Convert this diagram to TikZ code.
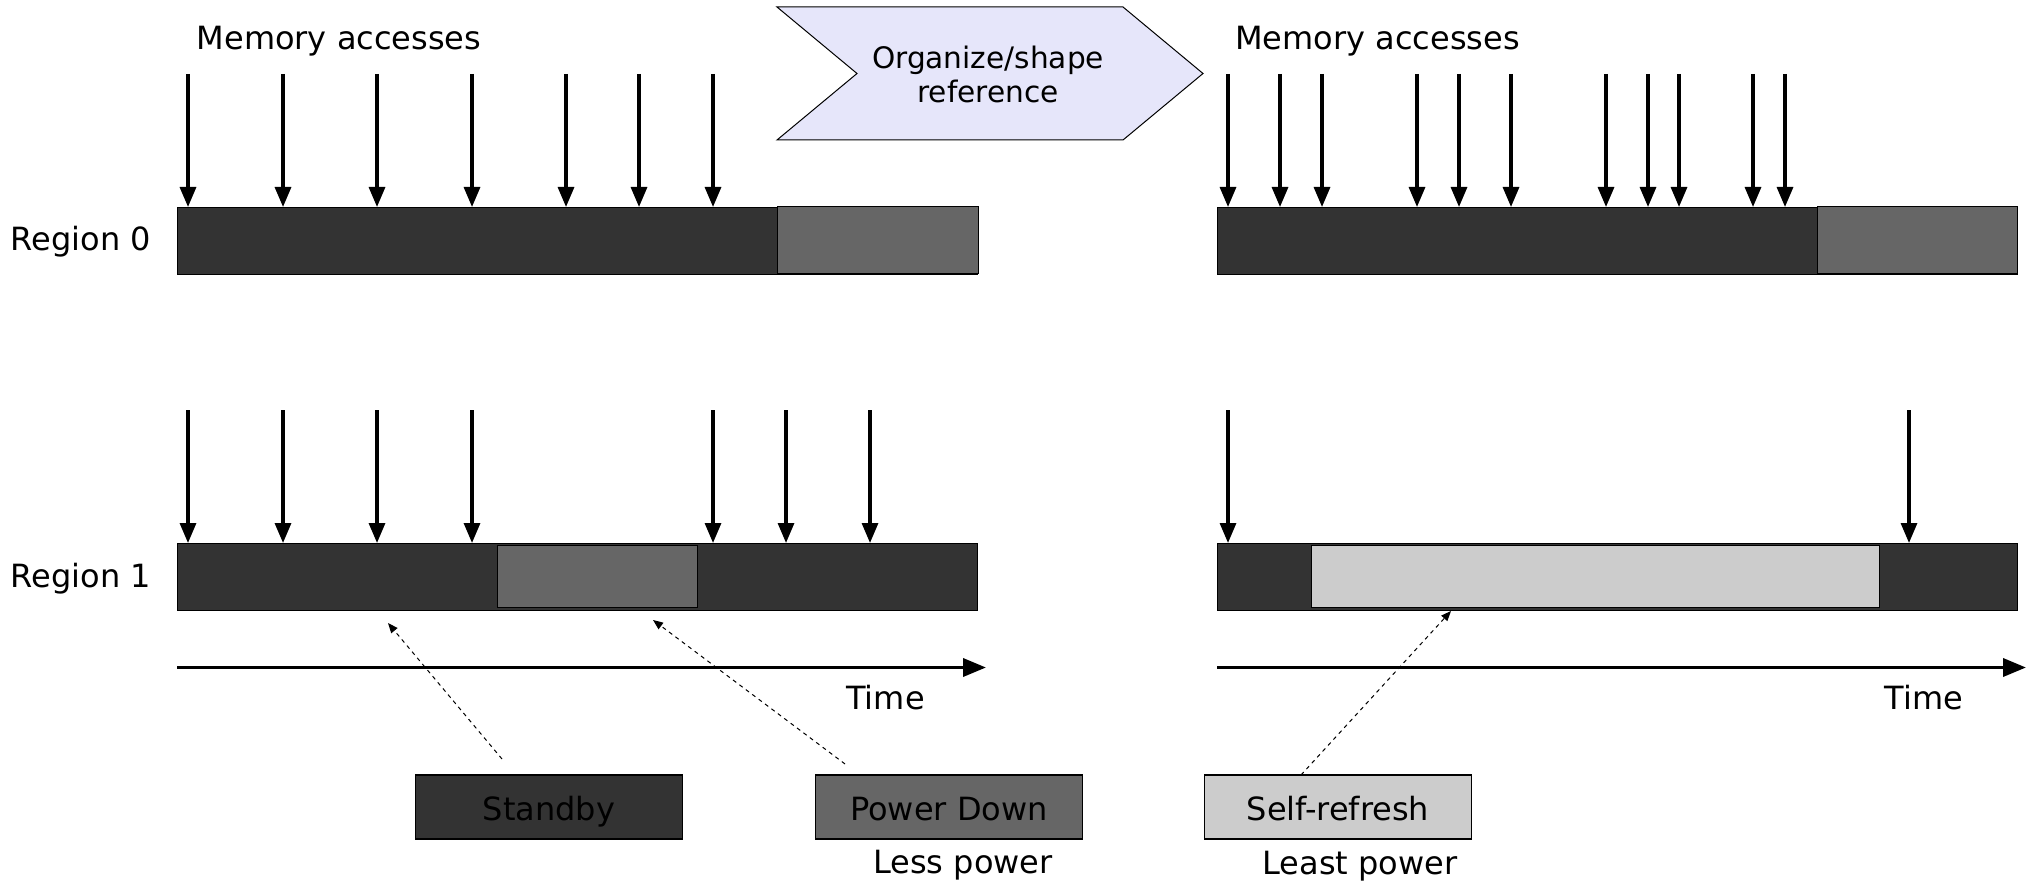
\documentclass[tikz,border=0pt]{standalone}
\usepackage{fontspec}
\setmainfont{DejaVu Sans}
\usetikzlibrary{arrows.meta}
\definecolor{standby}{HTML}{333333}
\definecolor{pdown}{HTML}{666666}
\definecolor{sref}{HTML}{CCCCCC}
\definecolor{chev}{HTML}{E6E6FA}
\begin{document}
\begin{tikzpicture}[x=0.5pt,y=-0.5pt,
  lbl/.style={inner sep=0pt, anchor=base, font=\fontsize{16pt}{19pt}\selectfont},
  chevtxt/.style={inner sep=0pt, anchor=base, font=\fontsize{14.8pt}{17pt}\selectfont},
  bar/.style={draw=black, line width=0.6pt, fill=standby, anchor=north west,
    inner sep=0pt, minimum width=400pt, minimum height=33.5pt},
  seg/.style={draw=black, line width=0.5pt},
  acc/.style={line width=1.6pt, -{Triangle[length=10pt,width=8pt]}},
  axis/.style={line width=1.8pt, -{Triangle[length=11.5pt,width=9pt]}},
  hint/.style={line width=0.5pt, dash pattern=on 2pt off 2pt, -{Triangle[length=5pt,width=4pt]}},
  state/.style={draw=black, line width=0.6pt, inner sep=0pt, minimum width=133.5pt,
    minimum height=32pt, text height=13pt, text depth=0pt,
    font=\fontsize{16pt}{19pt}\selectfont},
]
\useasboundingbox (0,0) rectangle (2028,882);

% headings
\node[lbl] (hdL) at (339,50) {Memory accesses};
\node[lbl] (hdR) at (1377.5,50) {Memory accesses};
\node[lbl] (reg0) at (81,250) {Region 0};
\node[lbl] (reg1) at (81,587) {Region 1};

% transformation chevron
\draw[fill=chev, line width=0.5pt] (777,7) -- (1123,7) -- (1203,73.5) -- (1123,140)
  -- (777,140) -- (857,73.5) -- cycle;
\node[chevtxt] (chev1) at (988,68.5) {Organize/shape};
\node[chevtxt] (chev2) at (988,103) {reference};

% timelines, region 0
\node[bar] (r0L) at (177,207) {};
\node[bar] (r0R) at (1217,207) {};
\draw[seg, fill=pdown] (777,207) rectangle (978,274);
\draw[seg, fill=pdown] (1817,207) rectangle (2017,274);

% timelines, region 1
\node[bar] (r1L) at (177,543) {};
\node[bar] (r1R) at (1217,543) {};
\draw[seg, fill=pdown] (497,545) rectangle (697,607);
\draw[seg, fill=sref] (1311,545) rectangle (1879,607);

% memory accesses
\foreach \x [count=\i] in {188,283,377,472,566,639,713}
  {\coordinate (a0L\i) at (\x,74); \draw[acc] (a0L\i) -- (a0L\i |- r0L.north);}
\foreach \x [count=\i] in {1228,1280,1322,1417,1459,1511,1606,1648,1679,1753,1785}
  {\coordinate (a0R\i) at (\x,74); \draw[acc] (a0R\i) -- (a0R\i |- r0R.north);}
\foreach \x [count=\i] in {188,283,377,472,713,786,870}
  {\coordinate (a1L\i) at (\x,410); \draw[acc] (a1L\i) -- (a1L\i |- r1L.north);}
\foreach \x [count=\i] in {1228,1909}
  {\coordinate (a1R\i) at (\x,410); \draw[acc] (a1R\i) -- (a1R\i |- r1R.north);}

% time axes
\coordinate (tLs) at (177,667.5); \coordinate (tLe) at (986,667.5);
\coordinate (tRs) at (1217,667.5); \coordinate (tRe) at (2026,667.5);
\draw[axis] (tLs) -- (tLe);
\draw[axis] (tRs) -- (tRe);
\node[lbl] (timeL) at (885.5,709) {Time};
\node[lbl] (timeR) at (1924,709) {Time};

% legend of power states
\node[state, fill=standby] (sb) at (549,807) {Standby};
\node[state, fill=pdown] (pd) at (949,807) {Power Down};
\node[state, fill=sref] (sr) at (1338,807) {Self-refresh};
\node[lbl] (less) at (963,873.3) {Less power};
\node[lbl] (least) at (1360,874.3) {Least power};

% pointers from the legend into the timelines
\coordinate (sbTail) at (502,759); \coordinate (sbTip) at (388,623);
\coordinate (pdTail) at (845,764); \coordinate (pdTip) at (653,620);
\coordinate (srTail) at (1301,775); \coordinate (srTip) at (1451,611);
\draw[hint] (sbTail) -- (sbTip);
\draw[hint] (pdTail) -- (pdTip);
\draw[hint] (srTail) -- (srTip);
\end{tikzpicture}
\end{document}
